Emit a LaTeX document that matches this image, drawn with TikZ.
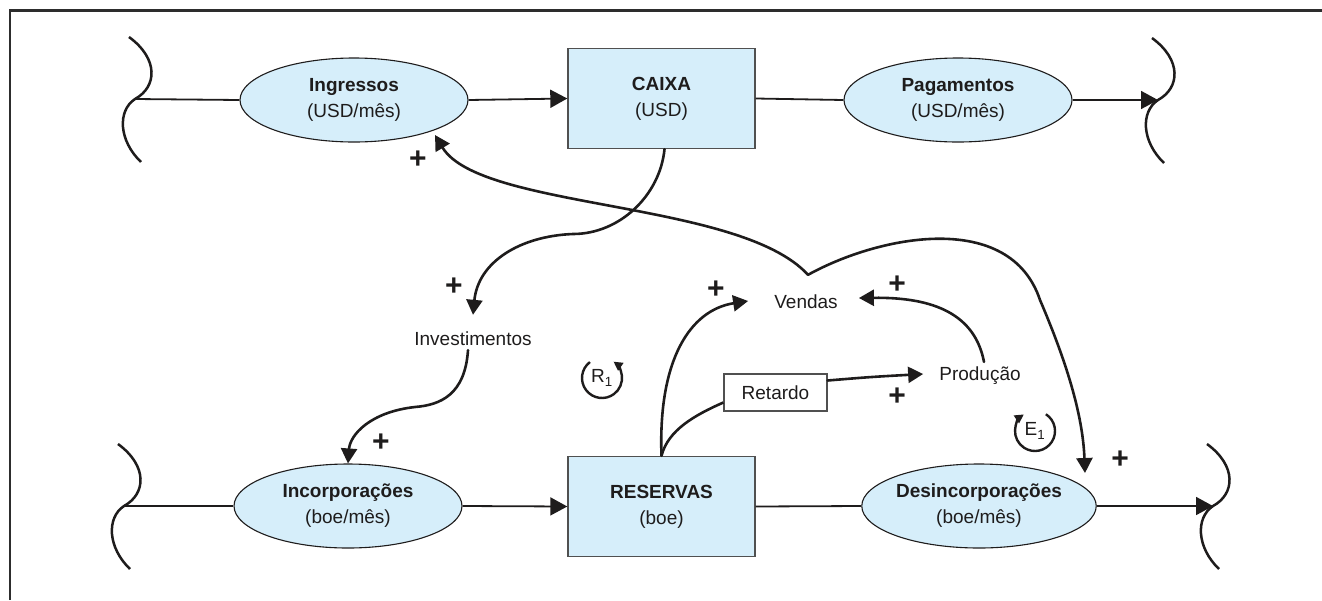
\documentclass[tikz,border=0pt]{standalone}
\usepackage{fontspec}
\setmainfont{Liberation Sans}
\usetikzlibrary{arrows.meta,calc,shapes.geometric}

\definecolor{stockfill}{RGB}{214,238,250}
\definecolor{framegray}{RGB}{45,45,45}
\definecolor{boxline}{RGB}{80,80,80}
\definecolor{ink}{RGB}{30,28,28}

\begin{document}
\begin{tikzpicture}[x=1pt,y=-1pt, color=ink,
  txt/.style={font=\fontsize{19}{26}\selectfont, align=center, text=ink},
  rate/.style={ellipse, draw=ink, line width=1.1pt, fill=stockfill,
    minimum width=228pt, minimum height=84pt, inner sep=0pt, txt},
  stock/.style={rectangle, draw=boxline, line width=1.4pt, fill=stockfill,
    minimum width=187pt, minimum height=100pt, inner sep=0pt, txt},
  flowline/.style={line width=1.8pt, draw=ink},
  flowarrow/.style={flowline, -{Triangle[length=17pt,width=18pt]}},
  causal/.style={line width=2.6pt, line cap=round, -{Triangle[length=15pt,width=16pt]}},
  link/.style={line width=2.6pt},
  sign/.style={font=\bfseries\fontsize{30}{30}\selectfont, inner sep=0pt, text=ink},
  var/.style={txt, inner sep=0pt},
  delaybox/.style={draw=boxline, line width=1.3pt, minimum width=103pt,
    minimum height=37pt, inner sep=0pt, txt},
  cloudline/.style={line width=2.5pt},
  loopmark/.style={line width=2.4pt, -{Triangle[length=9pt,width=9pt]}},
  looptext/.style={font=\fontsize{19}{19}\selectfont, inner sep=0pt, text=ink},
  sink/.pic={\draw[cloudline] (-6,-62) .. controls (24,-40) and (22,-12) .. (0,0)
      .. controls (-18,12) and (-16,42) .. (6,63);}
]
\useasboundingbox (0,0) rectangle (1322,600);

% open frame
\draw[line width=2.8pt, framegray] (10,600) -- (10,10.5) -- (1322,10.5);

% clouds (sources and sinks)
\coordinate (srcTop) at (135,99);
\coordinate (snkTop) at (1158,100);
\coordinate (srcBot) at (124,506);
\coordinate (snkBot) at (1213,506);
\pic at (srcTop) {sink};
\pic at (snkTop) {sink};
\pic at (srcBot) {sink};
\pic at (snkBot) {sink};

% stocks and flows
\node[rate]  (ing)   at (354,100)    {\textbf{Ingressos}\\(USD/mês)};
\node[stock] (caixa) at (661.5,98.5) {\textbf{CAIXA}\\(USD)};
\node[rate]  (pag)   at (958,100)    {\textbf{Pagamentos}\\(USD/mês)};
\node[rate]  (inc)   at (348,506)    {\textbf{Incorporações}\\(boe/mês)};
\node[stock] (res)   at (661.5,506.5){\textbf{RESERVAS}\\(boe)};
\node[rate]  (des)   at (979,506)    {\textbf{Desincorporações}\\(boe/mês)};

\draw[flowline]  (srcTop) -- (ing.west);
\draw[flowarrow] (ing.east) -- (caixa.west);
\draw[flowline]  (caixa.east) -- (pag.west);
\draw[flowarrow] (pag.east) -- (snkTop);
\draw[flowline]  (srcBot) -- (inc.west);
\draw[flowarrow] (inc.east) -- (res.west);
\draw[flowline]  (res.east) -- (des.west);
\draw[flowarrow] (des.east) -- (snkBot);

% auxiliary variables
\node[var] (inv)  at (473,339) {Investimentos};
\node[var] (ven)  at (806,302) {Vendas};
\node[var] (prod) at (980,376) {Produção};
\node[delaybox] (ret) at (775.5,392.5) {Retardo};
\coordinate (vtop) at ($(ven.north)+(2,-20)$);

% causal links
\draw[causal] ($(caixa.south)+(3,0)$) .. controls (660,195) and (620,234) .. (573,234)
  .. controls (520,236) and (478,262) .. ($(inv.north)+(0,-17)$);
\draw[causal] ($(inv.south)+(-5,4)$) .. controls (465,395) and (440,405) .. (415,407)
  .. controls (370,412) and (350,435) .. (inc.north);
\draw[causal] (res.north) .. controls (658,360) and (690,310) .. ($(ven.west)+(-26,-1)$);
\draw[link] (res.north) .. controls (668,430) and (695,415) .. ($(ret.west)+(0,10)$);
\draw[causal] ($(ret.east)+(0,-12)$) .. controls (870,377) .. ($(prod.west)+(-16,-2)$);
\draw[causal] ($(prod.north)+(4,-5)$) .. controls (975,315) and (935,297) .. ($(ven.east)+(21,-4)$);
\draw[causal] (vtop) .. controls (740,200) and (480,210) .. ($(ing.center)+(81,35)$);
\draw[causal] (vtop) .. controls (880,235) and (1010,210) .. (1040,300)
  .. controls (1070,370) and (1083,420) .. ($(des.center)+(106,-33)$);

% polarities
\node[sign] (s1) at (418,160) {+};
\node[sign] (s2) at (454,287) {+};
\node[sign] (s3) at (381,443) {+};
\node[sign] (s4) at (716,290) {+};
\node[sign] (s5) at (897,285) {+};
\node[sign] (s6) at (897,397) {+};
\node[sign] (s7) at (1120,460) {+};

% loop markers
\node[looptext] (r1) at (602,378) {R\textsubscript{1}};
\draw[loopmark] ($(r1.center)+(-127:20)$) arc (-127:-415:20);
\node[looptext] (e1) at (1035,431) {E\textsubscript{1}};
\draw[loopmark] ($(e1.center)+(-57:20)$) arc (-57:236:20);

\end{tikzpicture}
\end{document}
